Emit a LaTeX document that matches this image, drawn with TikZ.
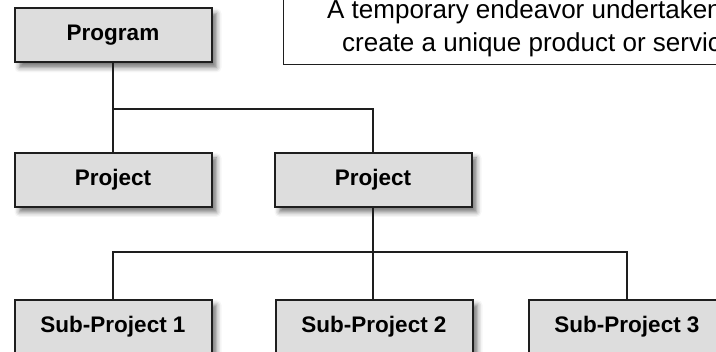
\documentclass[tikz,border=0pt]{standalone}
\usepackage{fontspec}
\setmainfont{Liberation Sans}
\usetikzlibrary{shadows.blur}
\definecolor{boxgray}{HTML}{DDDDDD}
\definecolor{edgegray}{HTML}{1E1E1E}
\tikzset{
  box/.style={draw=edgegray, line width=2pt, fill=boxgray,
    minimum width=197pt, minimum height=54pt, inner sep=0pt,
    font=\bfseries\fontsize{22.5}{26}\selectfont,
    blur shadow={shadow xshift=5pt, shadow yshift=-5pt, shadow blur radius=5pt, shadow opacity=55}},
  link/.style={draw=edgegray, line width=1.4pt},
  calltext/.style={anchor=base west, inner sep=0pt, font=\fontsize{26}{32}\selectfont},
}
\begin{document}
\begin{tikzpicture}[x=1pt, y=-1pt]
\useasboundingbox (0,0) rectangle (716,352);
\clip (0,0) rectangle (716,352);
% callout
\node[draw=edgegray, line width=1pt, anchor=north west, minimum width=460pt, minimum height=75pt, inner sep=0pt] (callout) at (283,-11) {};
\node[calltext] (l1) at (327,19) {A temporary endeavor undertaken to};
\node[calltext] (l2) at (342,52) {create a unique product or service.};
% boxes
\node[box] (prog) at (113,35.5) {Program};
\node[box] (p1) at (113,180) {Project};
\node[box] (p2) at (373,180) {Project};
\node[box] (s1) at (113,327) {Sub-Project 1};
\node[box] (s2) at (374,327) {Sub-Project 2};
\node[box] (s3) at (627,327) {Sub-Project 3};
% connectors
\coordinate (ya) at (0,109);
\coordinate (yb) at (0,252);
\coordinate (j1) at (prog.south |- ya);
\coordinate (j2) at (p2.south |- yb);
\draw[link] (prog.south) -- (p1.north);
\draw[link] (j1) -| (p2.north);
\draw[link] (p2.south) -- (p2.south |- s2.north);
\draw[link] (s1.north) |- (j2) -| (s3.north);
\end{tikzpicture}
\end{document}
